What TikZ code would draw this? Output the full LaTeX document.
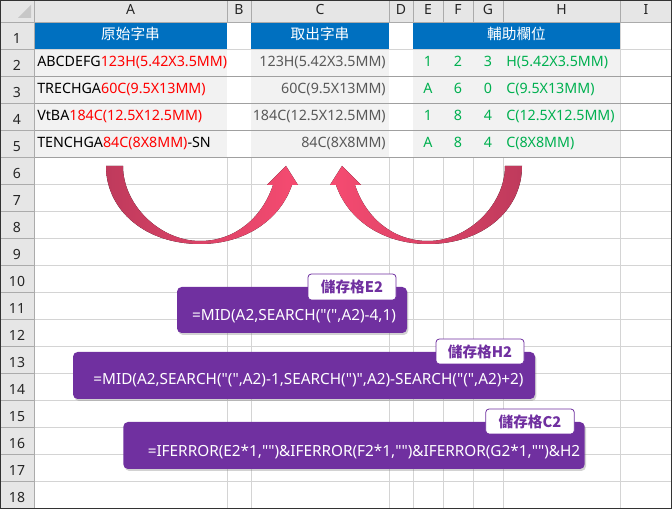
\documentclass[tikz,border=0pt]{standalone}
\usepackage{fontspec}
\setmainfont{Noto Sans}
\newfontfamily\codefont{Noto Sans}
\newfontfamily\cjk{Noto Sans CJK TC}
\usetikzlibrary{shadows}
\definecolor{hdrGray}{HTML}{E6E6E6}
\definecolor{hdrLine}{HTML}{ABABAB}
\definecolor{gridGray}{HTML}{D4D4D4}
\definecolor{rowLine}{HTML}{A0A0A0}
\definecolor{cellGray}{HTML}{F2F2F2}
\definecolor{titleBlue}{HTML}{0070C0}
\definecolor{okGreen}{HTML}{00B050}
\definecolor{fgGray}{HTML}{595959}
\definecolor{formulaPurple}{HTML}{7030A0}
\definecolor{arrowDark}{HTML}{BF3A5C}
\definecolor{arrowLight}{HTML}{F64B71}
\tikzstyle{colLetter} = [anchor=base, inner sep=0pt, text=black!85,
    font=\fontsize{10.5}{12}\selectfont]
\tikzstyle{rowNum} = [colLetter]
\tikzstyle{titleText} = [anchor=base, inner sep=0pt, text=white,
    font=\cjk\fontsize{11}{13}\selectfont]
\tikzstyle{dataText} = [anchor=base west, inner sep=0pt,
    font=\fontsize{10.7}{12}\selectfont]
\tikzstyle{resultText} = [dataText, anchor=base east, text=fgGray]
\tikzstyle{helperText} = [dataText, anchor=base, text=okGreen]
\tikzstyle{formulaBox} = [rectangle, rounded corners=3.5pt, fill=formulaPurple,
    drop shadow={shadow xshift=1pt, shadow yshift=-1.5pt, opacity=0.35}]
\tikzstyle{formulaText} = [inner sep=0pt, text=white,
    font=\codefont\fontsize{11.5}{13}\selectfont]
\tikzstyle{cellTag} = [rectangle, rounded corners=2.5pt, draw=formulaPurple,
    line width=0.6pt, fill=white, text=formulaPurple, inner sep=0pt,
    font=\cjk\bfseries\fontsize{11}{13}\selectfont]

\begin{document}
\begin{tikzpicture}[x=0.75pt, y=-0.75pt]
    \useasboundingbox (0,0) rectangle (672,509);
    \fill[white] (0,0) rectangle (672,509);

    % Grid of the empty rows
    \foreach \gx in {227,251,389,413,443,473,503,620}
        \draw[gridGray] (\gx,157) -- (\gx,509);
    \foreach \r in {6,...,17}
        \draw[gridGray] (34,{27*\r+22}) -- (672,{27*\r+22});
    \draw[gridGray] (620,22) -- (620,157);

    % Table cells
    \fill[titleBlue] (34,22) rectangle (227,49);
    \fill[titleBlue] (251,22) rectangle (389,49);
    \fill[titleBlue] (413,22) rectangle (620,49);
    \fill[cellGray] (34,49) rectangle (227,157);
    \fill[cellGray] (251,49) rectangle (389,157);
    \fill[cellGray] (413,49) rectangle (620,157);
    \draw[gridGray] (34,49) -- (672,49);
    \foreach \ry in {76,103,130,157}
        \draw[rowLine] (34,\ry) -- (672,\ry);

    % Column and row headers
    \fill[hdrGray] (0,0) rectangle (672,22);
    \fill[hdrGray] (0,22) rectangle (34,509);
    \fill[black!22] (31,5) -- (31,18) -- (18,18) -- cycle;
    \foreach \hx in {34,227,251,389,413,443,473,503,620}
        \draw[hdrLine] (\hx,0) -- (\hx,22);
    \draw[hdrLine] (0,22) -- (672,22);
    \draw[hdrLine] (34,22) -- (34,509);
    \foreach \r in {1,...,17}
        \draw[hdrLine] (0,{27*\r+22}) -- (34,{27*\r+22});
    \foreach \c/\cx in {A/130.5, B/239, C/320, D/401, E/428, F/458, G/488, H/561.5, I/646}
        \node[colLetter] (col\c) at (\cx,14.5) {\c};
    \foreach \r in {1,...,18}
        \node[rowNum] (row\r) at (17,{27*\r+17}) {\r};

    % Row 1
    \node[titleText] (titleA) at (130.5,40) {原始字串};
    \node[titleText] (titleC) at (320,40) {取出字串};
    \node[titleText] (titleE) at (516.5,40) {輔助欄位};

    % Column A
    \node[dataText] (a2) at (37,67) {ABCDEFG\textcolor{red}{123H(5.42X3.5MM)}};
    \node[dataText] (a3) at (37,94) {TRECHGA\textcolor{red}{60C(9.5X13MM)}};
    \node[dataText] (a4) at (37,121) {VtBA\textcolor{red}{184C(12.5X12.5MM)}};
    \node[dataText] (a5) at (37,148) {TENCHGA\textcolor{red}{84C(8X8MM)}-SN};

    % Column C
    \node[resultText] (c2) at (386,67) {123H(5.42X3.5MM)};
    \node[resultText] (c3) at (386,94) {60C(9.5X13MM)};
    \node[resultText] (c4) at (386,121) {184C(12.5X12.5MM)};
    \node[resultText] (c5) at (386,148) {84C(8X8MM)};

    % Columns E to H
    \foreach \r/\e/\f/\g/\h in {2/1/2/3/H(5.42X3.5MM), 3/A/6/0/C(9.5X13MM),
                                4/1/8/4/C(12.5X12.5MM), 5/A/8/4/C(8X8MM)} {
        \node[helperText] (e\r) at (428,{27*\r+13}) {\e};
        \node[helperText] (f\r) at (458,{27*\r+13}) {\f};
        \node[helperText] (g\r) at (488,{27*\r+13}) {\g};
        \node[helperText, anchor=base west] (h\r) at (506,{27*\r+13}) {\h};
    }

    % Bent arrows
    \fill[left color=arrowDark, right color=arrowLight]
        (106,166) -- (123,166) .. controls (123,205) and (160,241) .. (200,241)
        .. controls (235,241) and (262,218) .. (273,185) -- (267,185)
        -- (286,166) -- (298,185) -- (292,185)
        .. controls (280,220) and (245,244) .. (200,244)
        .. controls (145,244) and (106,210) .. (106,166) -- cycle;
    \fill[left color=arrowLight, right color=arrowDark]
        (522,166) -- (505,166) .. controls (505,205) and (468,241) .. (428,241)
        .. controls (393,241) and (366,218) .. (355,185) -- (361,185)
        -- (342,166) -- (330,185) -- (336,185)
        .. controls (348,220) and (383,244) .. (428,244)
        .. controls (483,244) and (522,210) .. (522,166) -- cycle;

    % Formula callouts
    \node[formulaBox, minimum width=172.5pt, minimum height=34.5pt] (boxE) at (292,310) {};
    \node[formulaText] (fE) at (294,316) {=MID(A2,SEARCH("(",A2)-4,1)};
    \node[cellTag, minimum width=66pt, minimum height=19.5pt] (tagE) at (352,287) {儲存格E2};

    \node[formulaBox, minimum width=346.5pt, minimum height=35.25pt] (boxH) at (304,375.5) {};
    \node[formulaText] (fH) at (308.5,380) {=MID(A2,SEARCH("(",A2)-1,SEARCH(")",A2)-SEARCH("(",A2)+2)};
    \node[cellTag, minimum width=66pt, minimum height=18.75pt] (tagH) at (480,351.5) {儲存格H2};

    \node[formulaBox, minimum width=346pt, minimum height=35.25pt] (boxC) at (354,445.5) {};
    \node[formulaText] (fC) at (364,452) {=IFERROR(E2*1,"")\&IFERROR(F2*1,"")\&IFERROR(G2*1,"")\&H2};
    \node[cellTag, minimum width=66.4pt, minimum height=18.75pt] (tagC) at (530,421.5) {儲存格C2};

    \draw[black!80, line width=0.9pt] (0.6,0.6) rectangle (671.4,508.4);
\end{tikzpicture}
\end{document}
